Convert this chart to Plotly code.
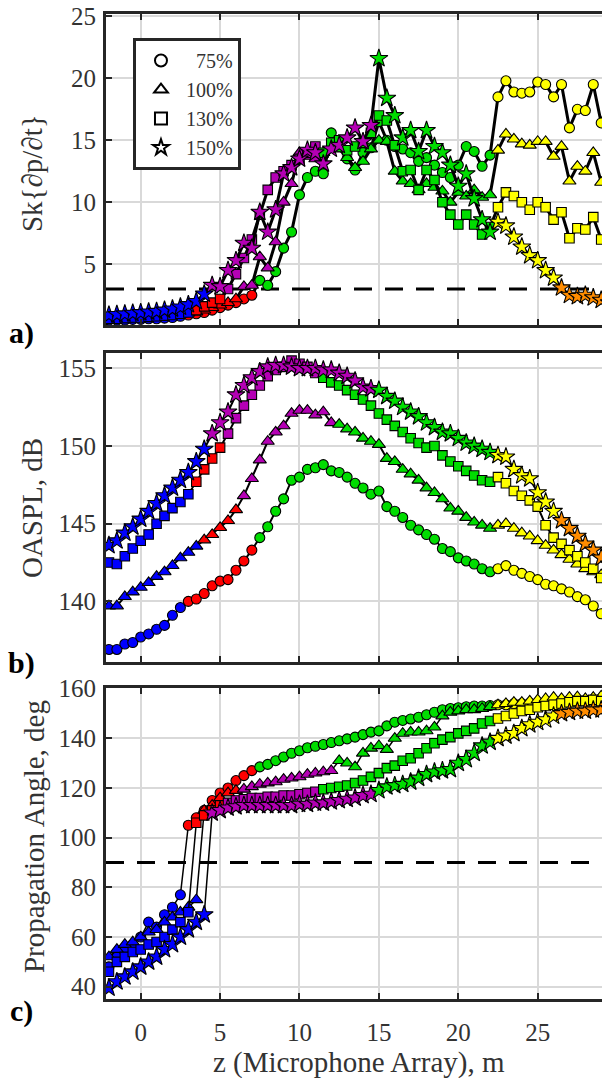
import plotly.graph_objects as go
from plotly.subplots import make_subplots

# ---------------- data ----------------
Z = [-2.0, -1.5, -1.0, -0.5, 0.0, 0.5, 1.0, 1.5, 2.0, 2.5,
     3.0, 3.5, 4.0, 4.5, 5.0, 5.5, 6.0, 6.5, 7.0, 7.5,
     8.0, 8.5, 9.0, 9.5, 10.0, 10.5, 11.0, 11.5, 12.0, 12.5,
     13.0, 13.5, 14.0, 14.5, 15.0, 15.5, 16.0, 16.5, 17.0, 17.5,
     18.0, 18.5, 19.0, 19.5, 20.0, 20.5, 21.0, 21.5, 22.0, 22.5,
     23.0, 23.5, 24.0, 24.5, 25.0, 25.5, 26.0, 26.5, 27.0, 27.5,
     28.0, 28.5, 29.0, 29.5]

SERIES_NAMES = ["75%", "100%", "130%", "150%"]

# a) skewness of dp/dt
SK_75 = [0.5, 0.5, 0.5, 0.55, 0.55, 0.6, 0.6, 0.65, 0.7, 0.8,
         0.9, 1.0, 1.1, 1.3, 1.5, 1.7, 1.9, 2.2, 2.5, 3.7,
         3.3, 4.4, 6.3, 7.6, 10.6, 12.0, 12.5, 12.3, 15.6, 14.5,
         13.5, 12.6, 14.0, 14.4, 16.5, 15.0, 14.5, 14.3, 14.0, 13.3,
         13.6, 13.0, 12.4, 12.0, 13.0, 14.5, 14.1, 12.9, 13.8, 18.5,
         19.8, 18.9, 18.8, 18.9, 19.7, 19.5, 18.5, 19.5, 16.0, 17.5,
         17.4, 19.5, 16.4, 18.4]
SK_100 = [0.55, 0.55, 0.6, 0.6, 0.65, 0.7, 0.75, 0.8, 0.85, 0.95,
          1.05, 1.15, 1.3, 1.5, 1.7, 1.9, 2.2, 3.2, 3.3, 5.6,
          4.7, 6.8, 10.0, 11.5, 14.0, 13.7, 13.5, 14.0, 14.5, 14.3,
          13.6, 12.8, 13.3, 14.3, 15.0, 14.9, 12.5, 11.7, 11.5, 11.0,
          11.5, 11.2, 10.9, 10.0, 10.8, 10.5, 11.0, 10.4, 10.6, 14.2,
          15.5, 15.1, 14.7, 14.6, 14.9, 14.9, 13.7, 14.5, 11.7, 12.9,
          12.5, 14.0, 11.6, 13.0]
SK_130 = [0.6, 0.6, 0.65, 0.7, 0.7, 0.75, 0.8, 0.85, 0.9, 1.0,
          1.1, 1.3, 1.6, 1.9, 2.2, 3.0, 4.2, 5.5, 7.0, 9.0,
          11.0, 12.0, 12.5, 13.0, 13.5, 14.0, 14.5, 14.0, 14.8, 15.0,
          14.2, 14.5, 14.8, 15.6, 17.0, 16.6, 14.6, 12.5, 12.6, 11.0,
          12.6, 11.8, 10.0, 9.0, 8.2, 9.0, 8.2, 7.4, 8.0, 9.6,
          10.8, 10.5, 10.0, 9.4, 10.0, 9.6, 8.6, 9.2, 7.1, 7.9,
          7.8, 8.8, 7.0, 7.9]
SK_150 = [0.9, 0.95, 1.0, 1.05, 1.1, 1.15, 1.2, 1.3, 1.4, 1.55,
          1.75, 2.0, 2.6, 3.3, 3.2, 4.5, 5.3, 6.7, 6.3, 9.2,
          7.6, 9.4, 12.3, 12.8, 13.5, 14.2, 14.0, 13.1, 14.3, 14.6,
          15.2, 16.0, 14.9, 16.2, 21.6, 18.4, 17.0, 15.2, 15.8, 14.1,
          15.8, 14.5, 14.0, 13.0, 11.3, 12.3, 10.3, 8.6, 7.6, 8.4,
          8.1, 7.2, 6.4, 5.7, 5.3, 4.5, 3.9, 3.1, 2.5, 2.4,
          2.5, 2.3, 2.1, 1.9]

# b) OASPL, dB
OA_75 = [136.9, 136.9, 137.25, 137.35, 137.7, 137.9, 138.2, 138.45, 139.1, 139.6,
         140.0, 140.15, 140.5, 141.0, 141.3, 141.4, 142.0, 142.6, 143.3, 144.1,
         144.8, 145.8, 146.6, 147.8, 148.0, 148.5, 148.6, 148.8, 148.4, 148.3,
         148.0, 147.6, 147.3, 146.9, 147.1, 146.1, 145.8, 145.4, 144.9, 144.6,
         144.3, 144.0, 143.4, 143.2, 142.8, 142.6, 142.4, 142.1, 141.9, 142.1,
         142.3, 142.0, 141.8, 141.6, 141.4, 141.1, 141.0, 140.8, 140.6, 140.3,
         140.1, 139.7, 139.2, 139.0]
OA_100 = [139.7, 139.7, 140.3, 140.6, 140.9, 141.2, 141.6, 141.9, 142.3, 142.8,
          143.15, 143.55, 143.95, 144.3, 144.75, 145.2, 145.9, 146.8, 147.9, 149.1,
          150.3, 150.9, 151.3, 152.1, 152.3, 152.3, 152.0, 152.2, 151.5, 151.4,
          151.1, 150.9, 150.5, 150.3, 150.1, 149.2, 149.0, 148.5, 148.2, 147.8,
          147.3, 147.0, 146.6, 146.0, 145.8, 145.4, 145.1, 144.9, 144.7, 144.9,
          145.0, 144.7, 144.4, 144.2, 143.9, 143.6, 143.3, 143.0, 142.7, 142.4,
          142.1, 141.9, 141.7, 141.5]
OA_130 = [142.5, 142.4, 142.9, 143.4, 143.9, 144.3, 145.0, 145.5, 146.0, 146.4,
          146.9, 147.7, 148.5, 149.2, 149.9, 150.8, 151.8, 152.6, 153.3, 153.9,
          154.5, 154.9, 155.1, 155.5, 155.3, 155.1, 154.7, 154.4, 154.1, 153.9,
          153.6, 153.3, 153.0, 152.6, 152.1, 151.7, 151.3, 150.9, 150.5, 150.2,
          149.9, 150.0, 149.4, 149.0, 148.7, 148.4, 148.1, 147.8, 147.7, 148.0,
          147.6, 147.1, 146.8, 146.5, 146.1, 144.9, 144.1, 143.7, 143.3, 142.9,
          142.5, 142.1, 141.5, 141.2]
OA_150 = [143.6, 143.9, 144.4, 144.8, 145.3, 145.8, 146.3, 146.8, 147.3, 147.8,
          148.3, 149.0, 149.8, 150.8, 151.5, 152.2, 153.3, 153.9, 154.4, 154.8,
          155.1, 155.2, 155.2, 155.1, 155.0, 155.0, 155.0, 154.9, 154.9, 154.7,
          154.5, 154.2, 153.8, 153.7, 153.6, 153.2, 152.9, 152.5, 152.2, 151.9,
          151.5, 151.2, 150.9, 150.8, 150.5, 150.2, 150.0, 149.8, 149.6, 149.4,
          149.3, 148.5, 148.1, 147.9, 147.0, 146.4, 145.8, 145.2, 144.7, 144.2,
          143.7, 143.3, 142.8, 142.4]

# c) propagation angle, deg
ANG_75 = [48, 52, 55, 57, 60, 66, 64, 69, 72, 77,
          105, 108, 111, 115, 118, 120, 123, 125, 127, 128.5,
          129.5, 131, 132.5, 134, 135, 136.2, 136.8, 137.5, 138.3, 139,
          139.8, 140.5, 141.5, 142.5, 143, 145, 146.5, 147.2, 147.8, 148.5,
          149.5, 150.5, 151.5, 152, 152.3, 152.7, 153, 153, 153.2, 153.5,
          153.5, 154, 154, 154.2, 154.5, 154.5, 155, 155, 155.2, 155,
          155.3, 155.5, 155.3, 155.5]
ANG_100 = [52, 55, 57, 58, 60, 62, 63, 66, 68, 70,
           72, 75, 111, 113, 116, 118, 119, 119.5, 120.5, 121.5,
           122, 122.5, 123.5, 124, 124.5, 125.5, 126, 126.5, 127, 131,
           130, 128.5, 134, 136, 137, 135.5, 140, 142, 142.5, 142.5,
           143, 144.5, 149, 150.5, 151, 151.5, 151.5, 152, 152.7, 153.5,
           154, 154.5, 154.5, 155, 155.5, 156, 156.5, 156, 156.5, 156.7,
           156, 156.5, 157, 156.5]
ANG_130 = [46, 50, 52, 54, 55, 57, 58, 60, 63, 66,
           70, 106, 109, 111, 113, 114, 115, 115.5, 116, 116,
           116.5, 116.5, 117, 117, 117.5, 118, 118.5, 119.5, 120, 120.5,
           121, 122, 123, 124.5, 126, 128, 129, 131, 132, 134,
           136, 138, 139.5, 140.5, 142, 143, 144, 146, 147, 148,
           149, 150, 151, 151.5, 152.5, 153, 153.5, 154, 154.5, 155,
           155, 155.5, 155, 155.5]
ANG_150 = [39.5, 42, 44, 46, 48, 50, 52, 55, 57, 60,
           63, 66, 69, 110, 111, 112, 112.5, 113, 113, 113,
           113, 113, 113, 113, 113.5, 113.5, 114, 114, 114.5, 115,
           115.5, 116, 117, 117.5, 119, 120.5, 121, 121.5, 122.5, 124,
           125.5, 126.5, 127, 127.5, 130, 131.5, 134, 137, 138.5, 140,
           141, 142, 144, 145.5, 146.5, 147.5, 149, 150, 150.5, 151,
           151, 151.5, 151.5, 152]

# threshold values (dashed lines)
SK_THRESHOLD = 3
ANG_THRESHOLD = 90

# region of each series along z (upper z limit of each region)
REGIONS_75 = [(2.6, "blue"), (7.2, "red"), (22.2, "green"), (99, "yellow")]
REGIONS_100 = [(3.8, "blue"), (6.2, "red"), (12.2, "magenta"), (22.2, "green"), (99, "yellow")]
REGIONS_130 = [(3.3, "blue"), (5.3, "red"), (11.2, "magenta"), (22.2, "green"), (99, "yellow")]
REGIONS_150 = [(4.2, "blue"), (14.7, "magenta"), (22.2, "green"), (26.2, "yellow"), (99, "orange")]

# ---------------- styling ----------------
PALETTE = {"blue": "#0000ff", "red": "#ff0000", "magenta": "#b400b4",
           "green": "#00dd00", "yellow": "#ffff00", "orange": "#ff8c00"}
SYMBOLS = ["circle", "triangle-up", "square", "star"]
MSIZES = [10, 11.5, 9.5, 13.5]
SERIF = "Liberation Serif, Times New Roman, serif"
TXT = "#333333"
XR = [-2.185, 29.05]


def region_colors(regions):
    out = []
    for z in Z:
        for zmax, name in regions:
            if z < zmax:
                out.append(PALETTE[name])
                break
    return out


SK = [SK_75, SK_100, SK_130, SK_150]
OA = [OA_75, OA_100, OA_130, OA_150]
ANG = [ANG_75, ANG_100, ANG_130, ANG_150]
REG = [REGIONS_75, REGIONS_100, REGIONS_130, REGIONS_150]

fig = make_subplots(rows=3, cols=1)

# dashed threshold lines (drawn first so markers sit on top)
for row, thr in ((1, SK_THRESHOLD), (3, ANG_THRESHOLD)):
    fig.add_trace(go.Scatter(x=XR, y=[thr, thr], mode="lines", showlegend=False,
                             hoverinfo="skip",
                             line=dict(color="black", width=3, dash="18px,13px")),
                  row=row, col=1)

line_w = {1: 3, 2: 2, 3: 1.5}
for i in range(4):
    cols = region_colors(REG[i])
    for row, vals in ((1, SK[i]), (2, OA[i]), (3, ANG[i])):
        fig.add_trace(go.Scatter(
            x=Z, y=vals, mode="lines+markers", showlegend=False,
            line=dict(color="black", width=line_w[row]),
            marker=dict(symbol=SYMBOLS[i], size=MSIZES[i], color=cols,
                        line=dict(color="black", width=1.1)),
        ), row=row, col=1)

# legend entries (open symbols)
for i in range(4):
    label = SERIES_NAMES[i] if len(SERIES_NAMES[i]) > 3 else "\u2007" + SERIES_NAMES[i]
    fig.add_trace(go.Scatter(
        x=[None], y=[None], mode="markers", name=label, showlegend=True,
        marker=dict(symbol=SYMBOLS[i], size=14, color="white",
                    line=dict(color="black", width=1.5)),
    ), row=1, col=1)

xcommon = dict(range=XR, tickvals=[0, 5, 10, 15, 20, 25], showgrid=True,
               gridcolor="#d9d9d9", gridwidth=2, zeroline=False, automargin=False,
               showline=True, linecolor="#262626", linewidth=3, mirror="ticks",
               ticks="inside", ticklen=6, tickwidth=2, tickcolor="#262626",
               tickfont=dict(family=SERIF, size=25, color=TXT))
ycommon = dict(showgrid=True, gridcolor="#d9d9d9", gridwidth=2, zeroline=False,
               automargin=False,
               showline=True, linecolor="#262626", linewidth=3, mirror=False,
               ticks="inside", ticklen=6, tickwidth=2, tickcolor="#262626",
               tickfont=dict(family=SERIF, size=25, color=TXT))

fig.update_layout(
    template="none",
    xaxis=dict(xcommon, showticklabels=False),
    xaxis2=dict(xcommon, showticklabels=False),
    xaxis3=dict(xcommon, showticklabels=True, ticklabelstandoff=9),
    yaxis=dict(ycommon, domain=[0.6843, 1.0], range=[0.1, 25.19],
               tickvals=[0, 5, 10, 15, 20, 25], ticklabelstandoff=2),
    yaxis2=dict(ycommon, domain=[0.3424, 0.6555], range=[136.11, 155.97],
                tickvals=[140, 145, 150, 155], ticklabelstandoff=2),
    yaxis3=dict(ycommon, domain=[0.0, 0.316], range=[35.05, 160.37],
                tickvals=[40, 60, 80, 100, 120, 140, 160], ticklabelstandoff=2),
)

# titles / labels as annotations
annos = [
    dict(text="Sk{\u2202p/\u2202t}", x=-0.149, y=0.8386, textangle=-90),
    dict(text="OASPL, dB", x=-0.149, y=0.4985, textangle=-90),
    dict(text="Propagation Angle, deg", x=-0.145, y=0.1645, textangle=-90),
    dict(text="z (Microphone Array), m", x=0.51, y=-0.064, textangle=0),
]
for a in annos:
    fig.add_annotation(xref="paper", yref="paper", showarrow=False,
                       xanchor="center", yanchor="middle",
                       font=dict(family=SERIF, size=29, color=TXT), **a)
for lab, y in (("a)", 0.676), ("b)", 0.341), ("c)", -0.012)):
    fig.add_annotation(xref="paper", yref="paper", showarrow=False,
                       x=-0.17, y=y, xanchor="center", yanchor="middle",
                       text="<b>" + lab + "</b>",
                       font=dict(family=SERIF, size=30, color="black"))

fig.update_layout(
    width=602, height=1078,
    margin=dict(l=106, r=0, t=14, b=79),
    plot_bgcolor="white", paper_bgcolor="white",
    showlegend=True,
    legend=dict(x=0.0544, y=0.9756, xanchor="left", yanchor="top",
                bgcolor="white", bordercolor="#262626", borderwidth=3,
                font=dict(family=SERIF, size=20, color=TXT),
                itemwidth=40, tracegroupgap=0, itemsizing="constant"),
)

fig.write_html("out.html", config={"displayModeBar": False},
               post_script="document.body.style.margin='0';document.body.style.overflow='hidden';")
